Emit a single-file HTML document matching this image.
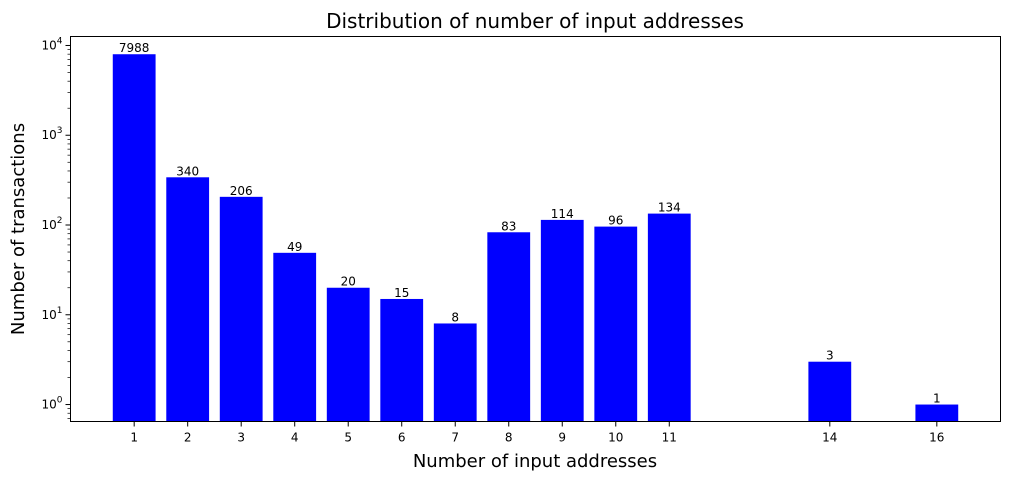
<!DOCTYPE html>
<html><head><meta charset="utf-8"><style>
body{margin:0;background:#fff;}
text{font-family:"DejaVu Sans","Liberation Sans",sans-serif;}
</style></head><body>
<svg id="chart" width="1009" height="479" xmlns="http://www.w3.org/2000/svg">
<rect x="0" y="0" width="1009" height="479" fill="#fff"/>
<text x="535" y="28" text-anchor="middle" font-size="20">Distribution of number of input addresses</text>
<text x="535" y="467" text-anchor="middle" font-size="18">Number of input addresses</text>
<text transform="translate(24,229) rotate(-90)" text-anchor="middle" font-size="18">Number of transactions</text>
<g id="bars"></g>
<g id="axes"></g>
<rect x="70.5" y="36.5" width="930" height="385" fill="none" stroke="#000" stroke-width="1"/>
</svg>
<script>
const categories = [1,2,3,4,5,6,7,8,9,10,11,14,16];
const values = [7988,340,206,49,20,15,8,83,114,96,134,3,1];
const yTickExps = [0,1,2,3,4];

const L=70.5,R=1000.5,T=36.5,B=421.5;
const xmin=-0.19,xmax=17.19;
const ymin=-0.189,ymax=4.1;
const xs=v=>L+(v-xmin)/(xmax-xmin)*(R-L);
const ys=v=>B-(Math.log10(v)-ymin)/(ymax-ymin)*(B-T);
const NS='http://www.w3.org/2000/svg';
const bars=document.getElementById('bars'), axes=document.getElementById('axes');
function mk(tag,attrs,parent){const e=document.createElementNS(NS,tag);for(const k in attrs)e.setAttribute(k,attrs[k]);parent.appendChild(e);return e;}
const bw=0.8*(xs(1)-xs(0));
categories.forEach((c,i)=>{
  const y=ys(values[i]);
  const r=mk('rect',{x:xs(c)-bw/2,y:y,width:bw,height:B-y,fill:'#0000ff'},bars);
  
  
  const t=mk('text',{x:xs(c),y:y-2,'text-anchor':'middle','font-size':12},bars);
  t.textContent=values[i];
  
  
  const tk=mk('line',{x1:xs(c),x2:xs(c),y1:B,y2:B+5,stroke:'#000'},axes);
  
  
  const tl=mk('text',{x:xs(c),y:B+20,'text-anchor':'middle','font-size':12},axes);
  tl.textContent=c;
  
  
});
yTickExps.forEach(e=>{
  const y=ys(Math.pow(10,e));
  const tk=mk('line',{x1:L-5,x2:L,y1:y,y2:y,stroke:'#000'},axes);
  
  
  const t=mk('text',{x:L-8,y:y+4,'text-anchor':'end','font-size':12},axes);
  
  
  t.innerHTML='10<tspan dy="-6" font-size="9">'+e+'</tspan>';
});
for(let e=-1;e<=4;e++){for(let m=2;m<=9;m++){const v=m*Math.pow(10,e);const lv=Math.log10(v);if(lv<ymin||lv>ymax)continue;const y=ys(v);
  const tk=mk('line',{x1:L-3,x2:L,y1:y,y2:y,stroke:'#000','stroke-width':0.7},axes);
  
  }}
</script>
</body></html>
